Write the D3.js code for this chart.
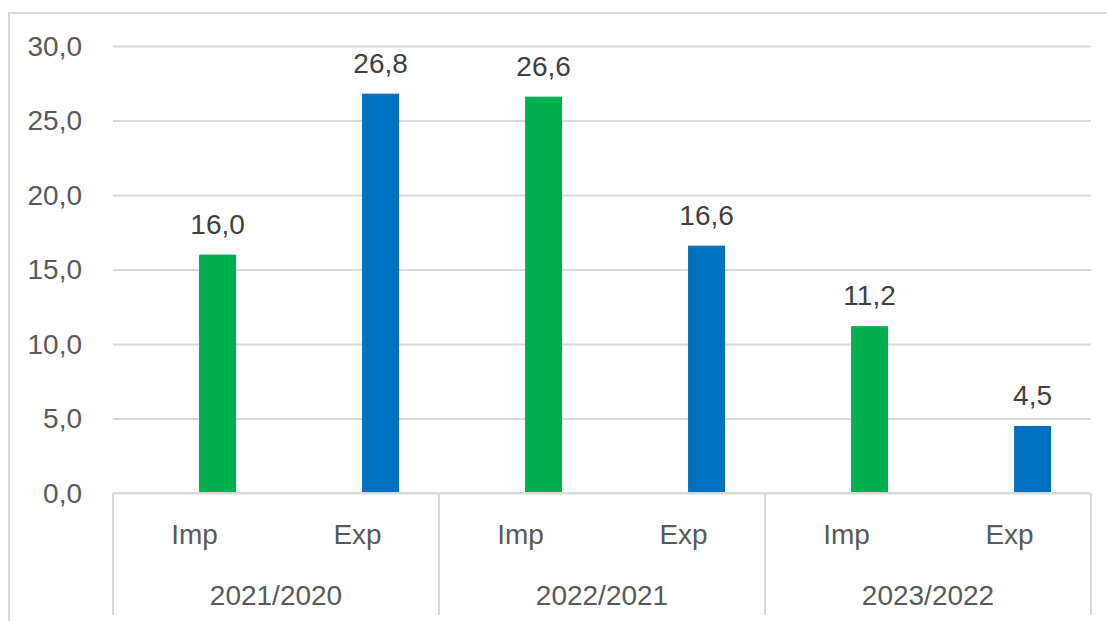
<!DOCTYPE html>
<html>
<head>
<meta charset="utf-8">
<script src="https://cdn.jsdelivr.net/npm/d3@7/dist/d3.min.js"></script>
<style>
  html, body { margin: 0; padding: 0; background: #fff; }
  svg { display: block; font-family: "Liberation Sans", Arial, sans-serif; }
</style>
</head>
<body>
<svg id="chart" width="1107" height="621"></svg>
<script>
// Growth rates of imports and exports by period (%)
const periods = ["2021/2020", "2022/2021", "2023/2022"];
const flows = ["Imp", "Exp"];
const impValues = [16.0, 26.6, 11.2];
const expValues = [26.8, 16.6, 4.5];
const yTicks = [0, 5, 10, 15, 20, 25, 30];

const colors = { Imp: "#00B050", Exp: "#0070C0" };

const rows = [];
periods.forEach((p, i) => {
  rows.push({ period: p, flow: "Imp", value: impValues[i] });
  rows.push({ period: p, flow: "Exp", value: expValues[i] });
});

const svg = d3.select("#chart");
const plot = { left: 113, right: 1091, top: 46, bottom: 493 };

// outer frame
svg.append("rect")
  .attr("x", 9).attr("y", 13)
  .attr("width", 1120).attr("height", 640)
  .attr("fill", "none").attr("stroke", "#d9d9d9").attr("stroke-width", 2);

const locale = d3.formatLocale({ decimal: ",", thousands: ".", grouping: [3], currency: ["", ""] });
const fmt = locale.format(".1f");

const y = d3.scaleLinear().domain([0, 30]).range([plot.bottom, plot.top]);
const x0 = d3.scaleBand().domain(periods).range([plot.left, plot.right]).paddingInner(0).paddingOuter(0);
const x1 = d3.scaleBand().domain(flows).range([0, x0.bandwidth()]);

// gridlines + y labels
const yAxis = d3.axisLeft(y).tickValues(yTicks).tickFormat(fmt)
  .tickSize(-(plot.right - plot.left)).tickPadding(31);
const gy = svg.append("g").attr("transform", `translate(${plot.left},0)`).call(yAxis);
gy.select(".domain").remove();
gy.selectAll(".tick line").attr("stroke", "#d9d9d9").attr("stroke-width", 2);
gy.selectAll(".tick text")
  .attr("fill", "#595959").attr("font-size", 28).attr("dy", "0.33em");

// bars
const slotW = x1.bandwidth();
const barW = slotW * 0.227;
const barOff = slotW * 0.528;
const barX = d => x0(d.period) + x1(d.flow) + barOff;

svg.append("g").selectAll("rect").data(rows).join("rect")
  .attr("x", barX)
  .attr("y", d => y(d.value))
  .attr("width", barW)
  .attr("height", d => y(0) - y(d.value))
  .attr("fill", d => colors[d.flow]);

// value labels
svg.append("g").selectAll("text").data(rows).join("text")
  .attr("x", d => barX(d) + barW / 2)
  .attr("y", d => y(d.value) - 21)
  .attr("text-anchor", "middle")
  .attr("font-size", 28)
  .attr("fill", "#404040")
  .text(d => fmt(d.value));

// category axis: baseline and group boxes
const axisG = svg.append("g");
axisG.append("line")
  .attr("x1", plot.left).attr("x2", plot.right)
  .attr("y1", plot.bottom).attr("y2", plot.bottom)
  .attr("stroke", "#d9d9d9").attr("stroke-width", 2);

const sepX = periods.map(p => x0(p)).concat([plot.right]);
axisG.selectAll("line.sep").data(sepX).join("line")
  .attr("class", "sep")
  .attr("x1", d => d).attr("x2", d => d)
  .attr("y1", plot.bottom).attr("y2", 615)
  .attr("stroke", "#d9d9d9").attr("stroke-width", 2);

// flow labels
axisG.selectAll("text.flow").data(rows).join("text")
  .attr("class", "flow")
  .attr("x", d => x0(d.period) + x1(d.flow) + slotW / 2)
  .attr("y", 544)
  .attr("text-anchor", "middle")
  .attr("font-size", 28)
  .attr("fill", "#595959")
  .text(d => d.flow);

// period labels
axisG.selectAll("text.period").data(periods).join("text")
  .attr("class", "period")
  .attr("x", d => x0(d) + x0.bandwidth() / 2)
  .attr("y", 605)
  .attr("text-anchor", "middle")
  .attr("font-size", 28)
  .attr("fill", "#595959")
  .text(d => d);
</script>
</body>
</html>
